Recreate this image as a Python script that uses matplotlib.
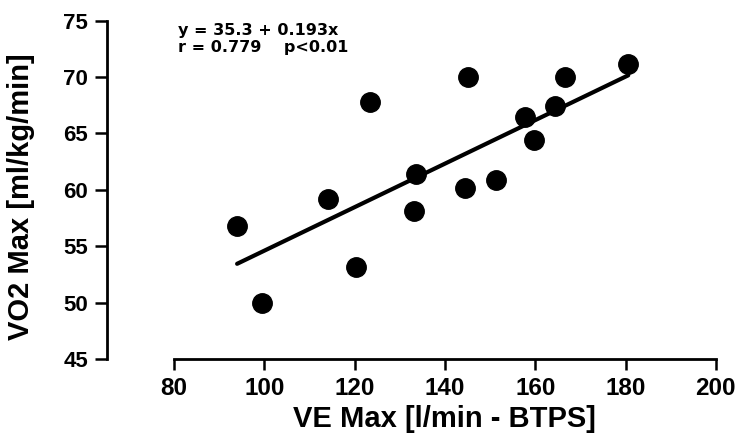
import numpy as np
import matplotlib
matplotlib.use("Agg")
import matplotlib.pyplot as plt

# Maximal ventilation (l/min BTPS) vs maximal oxygen uptake (ml/kg/min)
ve_max = [94.0, 99.6, 114.2, 120.4, 123.5, 133.1, 133.7, 144.4, 145.2,
          151.4, 157.7, 159.7, 164.3, 166.6, 180.6]
vo2_max = [56.8, 50.0, 59.2, 53.2, 67.8, 58.1, 61.4, 60.2, 70.0,
           60.9, 66.5, 64.4, 67.4, 70.0, 71.2]

# Regression reported on the chart
intercept = 35.3
slope = 0.193
r_value = 0.779

x_ticks = [80, 100, 120, 140, 160, 180, 200]
y_ticks = [45, 50, 55, 60, 65, 70, 75]

FONT = "Liberation Sans"

fig = plt.figure(figsize=(7.38, 4.34), dpi=100)
ax = fig.add_axes([0.145, 0.1728, 0.825, 0.7795])

ax.set_xlim(65.2, 200)
ax.set_ylim(45, 75)

# Scatter points
ax.plot(ve_max, vo2_max, linestyle="none", marker="o", markersize=14,
        color="black", zorder=3, clip_on=False)

# Fitted line over the observed range
x_fit = np.array([min(ve_max), max(ve_max)])
ax.plot(x_fit, intercept + slope * x_fit, color="black", lw=3,
        solid_capstyle="round", zorder=2)

# Detached axes
for side in ("top", "right"):
    ax.spines[side].set_visible(False)
ax.spines["left"].set_bounds(45, 75)
ax.spines["bottom"].set_bounds(80, 200)
for side in ("left", "bottom"):
    ax.spines[side].set_linewidth(2)
    ax.spines[side].set_color("black")

ax.set_xticks(x_ticks)
ax.set_yticks(y_ticks)
ax.set_xticklabels([str(v) for v in x_ticks], fontsize=17.5,
                   fontweight="bold", family=FONT)
ax.set_yticklabels([str(v) for v in y_ticks], fontsize=16,
                   fontweight="bold", family=FONT)
ax.tick_params(axis="x", direction="out", length=8, width=1.8, pad=5)
ax.tick_params(axis="y", direction="out", length=8.5, width=1.8, pad=5)

ax.set_xlabel("VE Max [l/min - BTPS]", fontsize=21, fontweight="bold",
              family=FONT)
ax.xaxis.set_label_coords((140 - 65.2) / (200 - 65.2), -0.136)
ax.set_ylabel("VO2 Max [ml/kg/min]", fontsize=21, fontweight="bold",
              family=FONT)
ax.yaxis.set_label_coords(-0.118, 0.48)

# Regression statistics
ax.text(80.9, 73.75, f"y = {intercept} + {slope}x", fontsize=11.5,
        fontweight="bold", family="DejaVu Sans", va="baseline", ha="left")
ax.text(80.9, 72.25, f"r = {r_value}    p<0.01", fontsize=11.5,
        fontweight="bold", family="DejaVu Sans", va="baseline", ha="left")

fig.savefig("out.png", dpi=100)
